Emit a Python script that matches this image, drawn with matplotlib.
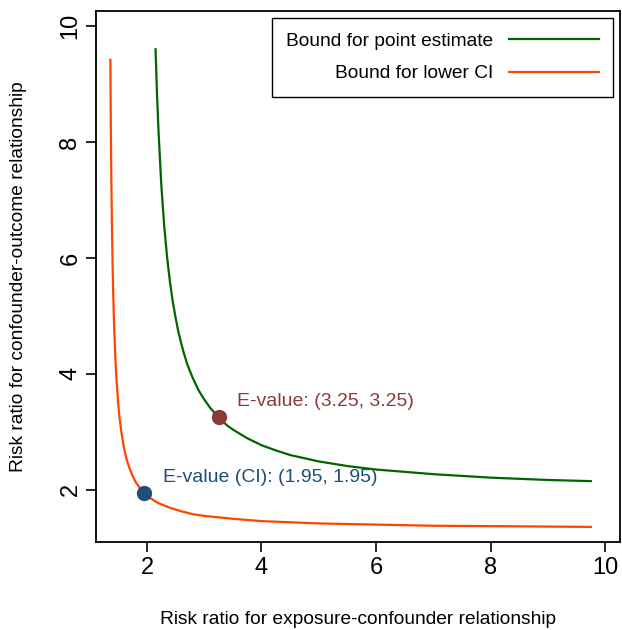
import matplotlib
matplotlib.use("Agg")
import matplotlib.pyplot as plt

plt.rcParams['font.family'] = ['Liberation Sans', 'DejaVu Sans']

# curve values
point_x = [2.15, 2.175, 2.2, 2.25, 2.3, 2.35, 2.4, 2.45, 2.5, 2.55, 2.6, 2.65, 2.7, 2.75, 2.8,
           2.9, 3.0, 3.1, 3.25, 3.4, 3.5, 3.75, 4.0, 4.25, 4.5, 5.0, 5.5, 6.0, 7.0, 8.0, 9.0, 9.75]
point_y = [9.60, 8.85, 8.23, 7.27, 6.57, 6.03, 5.60, 5.25, 4.97, 4.72, 4.52, 4.34, 4.18, 4.05, 3.93,
           3.72, 3.56, 3.42, 3.25, 3.11, 3.04, 2.89, 2.77, 2.68, 2.60, 2.49, 2.41, 2.35, 2.27, 2.21, 2.17, 2.15]

lower_x = [1.362, 1.365, 1.37, 1.375, 1.38, 1.39, 1.40, 1.41, 1.42, 1.43, 1.45, 1.47, 1.5, 1.52,
           1.55, 1.575, 1.6, 1.625, 1.65, 1.7, 1.75, 1.8, 1.87, 1.95, 2.0, 2.1, 2.2, 2.4, 2.6,
           2.8, 3.0, 3.5, 4.0, 4.5, 5.0, 5.5, 6.0, 7.0, 8.5, 9.75]
lower_y = [9.42, 8.86, 8.22, 7.66, 7.22, 6.47, 5.89, 5.43, 5.05, 4.74, 4.24, 3.88, 3.47, 3.26,
           3.02, 2.86, 2.72, 2.61, 2.51, 2.36, 2.24, 2.14, 2.04, 1.95, 1.90, 1.83, 1.77, 1.69, 1.63,
           1.58, 1.55, 1.50, 1.46, 1.44, 1.42, 1.41, 1.40, 1.38, 1.37, 1.36]

evalue = (3.25, 3.25)
evalue_ci = (1.95, 1.95)
ticks = [2, 4, 6, 8, 10]

green = '#006400'
orange = '#FF4500'
red_pt = '#8B3A3A'
blue_pt = '#1F4E79'

fig = plt.figure(figsize=(6.22, 6.30), dpi=100)
ax = fig.add_axes([0.1543, 0.1397, 0.8425, 0.8428])

ax.plot(point_x, point_y, color=green, lw=1.6, label='Bound for point estimate')
ax.plot(lower_x, lower_y, color=orange, lw=1.6, label='Bound for lower CI')

ax.plot(*evalue, 'o', color=red_pt, ms=10, zorder=5)
ax.plot(*evalue_ci, 'o', color=blue_pt, ms=10, zorder=5)
ax.text(3.57, 3.52, 'E-value: (%.2f, %.2f)' % evalue, color=red_pt, fontsize=14, va='center')
ax.text(2.28, 2.21, 'E-value (CI): (%.2f, %.2f)' % evalue_ci, color=blue_pt, fontsize=14, va='center')

ax.set_xlim(1.11, 10.26)
ax.set_ylim(1.10, 10.26)
ax.set_xticks(ticks)
ax.set_yticks(ticks)
ax.tick_params(labelsize=17, length=7, width=1.2, direction='out')
for lab in ax.get_yticklabels():
    lab.set_rotation(90)
    lab.set_va('center')
for s in ax.spines.values():
    s.set_linewidth(1.3)

ax.set_xlabel('Risk ratio for exposure-confounder relationship', fontsize=13.8, labelpad=23)
ax.set_ylabel('Risk ratio for confounder-outcome relationship', fontsize=13.8, labelpad=23)

leg = ax.legend(loc='upper right', markerfirst=False, fontsize=13.8, handlelength=4.7,
                fancybox=False, edgecolor='black', framealpha=1, borderpad=0.75,
                labelspacing=0.8, borderaxespad=0.36, handletextpad=0.8)
leg.get_frame().set_linewidth(1.0)

fig.savefig('out.png', dpi=100)
